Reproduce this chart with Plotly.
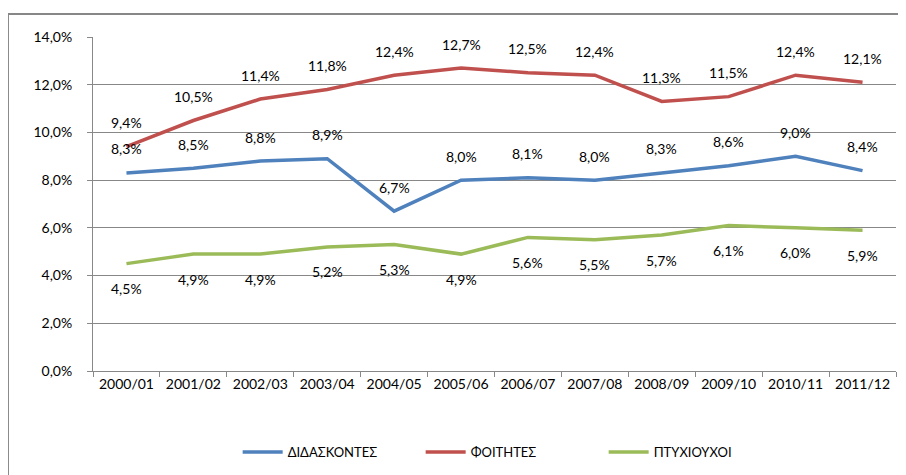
import plotly.graph_objects as go

categories = ["2000/01", "2001/02", "2002/03", "2003/04", "2004/05", "2005/06",
              "2006/07", "2007/08", "2008/09", "2009/10", "2010/11", "2011/12"]
didaskontes = [8.3, 8.5, 8.8, 8.9, 6.7, 8.0, 8.1, 8.0, 8.3, 8.6, 9.0, 8.4]
foitites = [9.4, 10.5, 11.4, 11.8, 12.4, 12.7, 12.5, 12.4, 11.3, 11.5, 12.4, 12.1]
ptyxiouxoi = [4.5, 4.9, 4.9, 5.2, 5.3, 4.9, 5.6, 5.5, 5.7, 6.1, 6.0, 5.9]
y_ticks = [0, 2, 4, 6, 8, 10, 12, 14]

series = [
    ("ΔΙΔΑΣΚΟΝΤΕΣ", didaskontes, "#4F81BD", 24),
    ("ΦΟΙΤΗΤΕΣ", foitites, "#C0504D", 24),
    ("ΠΤΥΧΙΟΥΧΟΙ", ptyxiouxoi, "#9BBB59", -25),
]

FONT = "Lato"

def fmt(v):
    return f"{v:.1f}%".replace(".", ",")

fig = go.Figure()
annotations = []
for name, vals, color, shift in series:
    fig.add_trace(go.Scatter(x=categories, y=vals, mode="lines", name=name,
                             line=dict(color=color, width=3.5)))
    for c, v in zip(categories, vals):
        annotations.append(dict(x=c, y=v, text=fmt(v), showarrow=False, yshift=shift,
                                font=dict(family=FONT, size=14, color="#000000")))

border = "#878787"
shapes = [
    dict(type="line", xref="paper", yref="paper", x0=-0.1059, x1=-0.1059, y0=-0.32, y1=1.0689,
         line=dict(color=border, width=2)),
    dict(type="line", xref="paper", yref="paper", x0=-0.1059, x1=1.02, y0=1.0689, y1=1.0689,
         line=dict(color=border, width=2)),
]

fig.update_layout(
    width=898, height=467,
    margin=dict(l=85, r=10, t=29, b=104, autoexpand=False),
    paper_bgcolor="white", plot_bgcolor="white",
    separators=",.",
    font=dict(family=FONT, size=14, color="#000000"),
    annotations=annotations,
    shapes=shapes,
    legend=dict(orientation="h", x=0.522, xanchor="center", y=-0.2425, yanchor="middle",
                font=dict(family=FONT, size=13), itemwidth=40, tracegroupgap=0,
                entrywidth=128, entrywidthmode="pixels"),
    xaxis=dict(type="category", showgrid=False, showline=True, linecolor="#888888", linewidth=1,
               ticks="outside", tickson="boundaries", ticklen=5, tickcolor="#888888",
               tickfont=dict(family=FONT, size=14), range=[-0.5, 11.5]),
    yaxis=dict(range=[0, 14], tickmode="array", tickvals=y_ticks,
               ticktext=[fmt(t) for t in y_ticks],
               showgrid=True, gridcolor="#888888", gridwidth=1,
               showline=True, linecolor="#888888", linewidth=1,
               ticks="outside", ticklen=5, tickcolor="#888888", ticklabelstandoff=12,
               tickfont=dict(family=FONT, size=14), zeroline=False),
)

fig.write_html("out.html")
